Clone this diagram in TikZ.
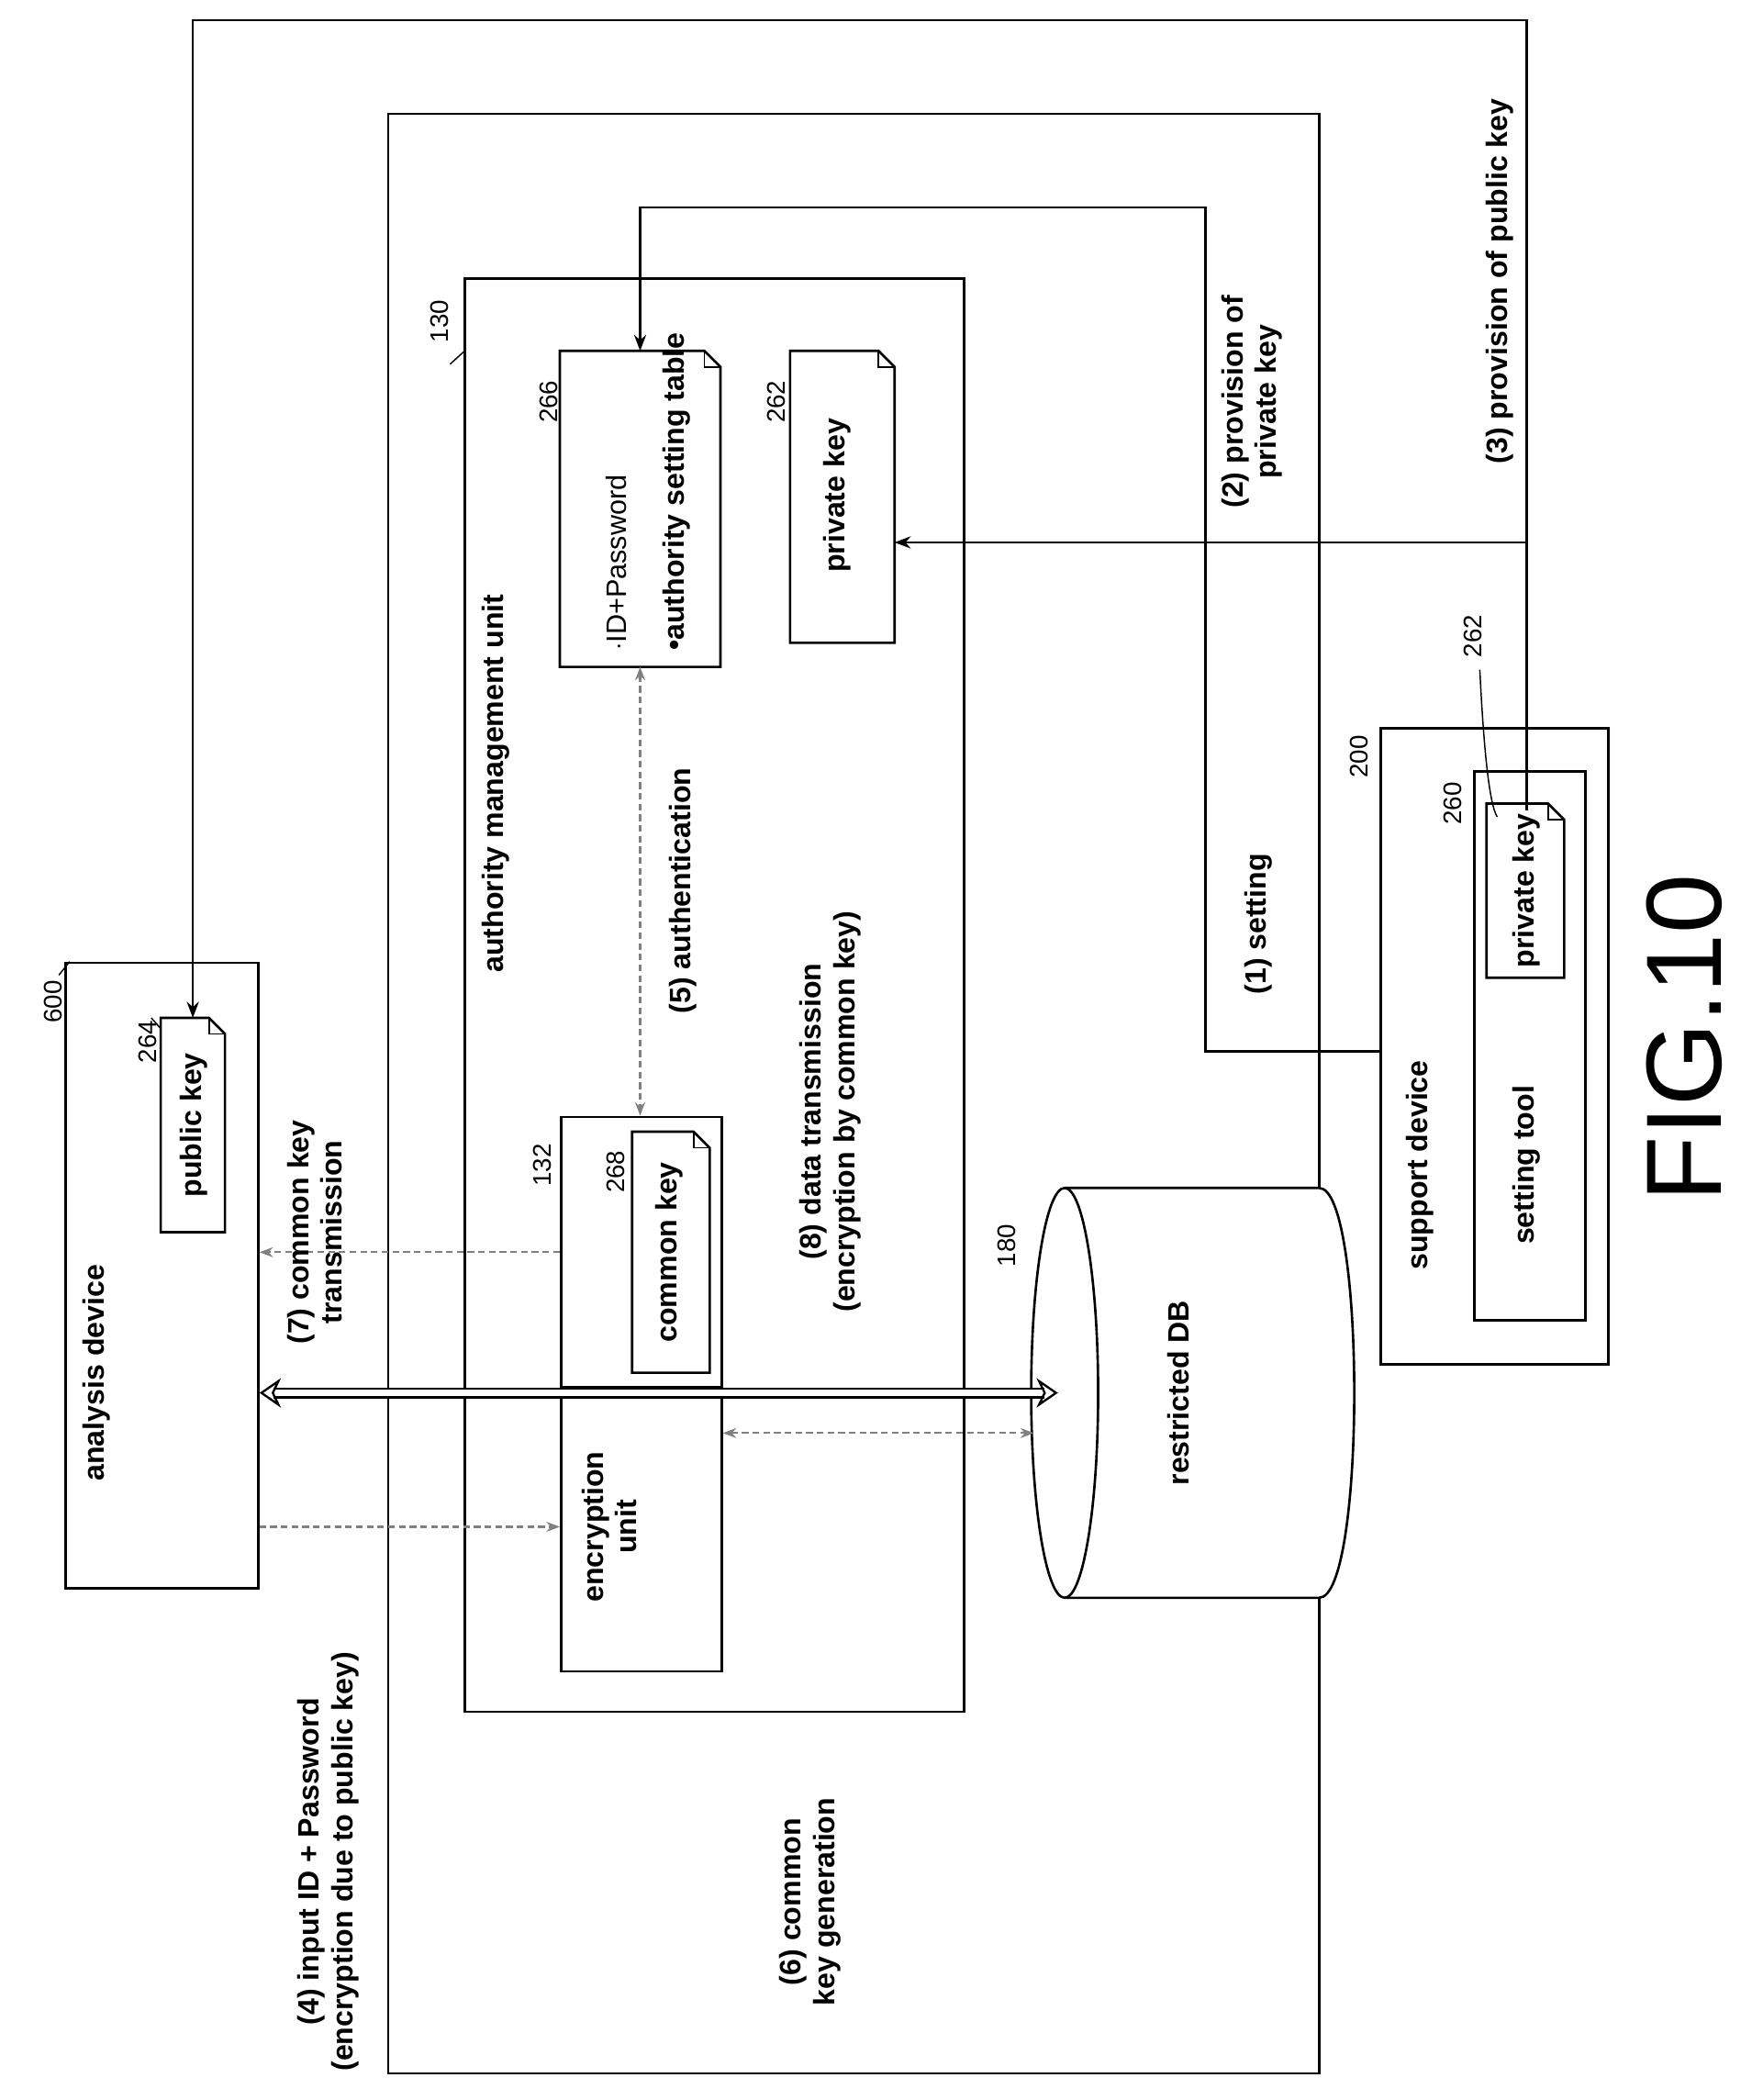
\documentclass[tikz,border=0pt]{standalone}
\usepackage{fontspec}
\setmainfont{Liberation Sans}
\usetikzlibrary{arrows.meta}
\begin{document}
\begin{tikzpicture}[x=1pt,y=-1pt,line width=1.8pt,
 lbl/.style={rotate=90,font=\fontsize{22}{25}\selectfont\bfseries,align=center},
 num/.style={rotate=90,font=\fontsize{19}{22}\selectfont},
 box/.style={draw},
 dsh/.style={draw=gray,line width=1.4pt,dashed,dash pattern=on 5pt off 3pt},
 arr/.style={-{Stealth[length=12pt,width=9pt]}}]
\useasboundingbox[fill=white] (0,0) rectangle (1308,1568);
\newcommand{\docshape}[4]{\draw (#1,#2)--({#3-12},#2)--(#3,{#2+12})--(#3,#4)--(#1,#4)--cycle; \draw[line width=1.2pt] ({#3-12},#2)--({#3-12},{#2+12})--(#3,{#2+12});}
% boxes
\draw (290,85) rectangle (985,1548);
\draw (347,208) rectangle (720,1278);
\node[box,minimum width=144,minimum height=467,anchor=north west] (ana) at (48,718) {};
\node[box,minimum width=120,minimum height=212,anchor=north west] (enc) at (418,1035) {};
\node[box,minimum width=120,minimum height=202,anchor=north west] (b132) at (418,833) {};
\node[box,minimum width=170,minimum height=475,anchor=north west] (sup) at (1030,543) {};
\node[box,minimum width=83,minimum height=410,anchor=north west] (tool) at (1100,575) {};
% docs
\docshape{120}{760}{168}{920} \coordinate (pub) at (144,760);
\docshape{472}{845}{530}{1025}
\docshape{418}{262}{538}{498} \coordinate (idtop) at (478,262); \coordinate (idbot) at (478,498);
\docshape{590}{262}{668}{480} \coordinate (prv) at (668,405);
\docshape{1110}{600}{1168}{730} \coordinate (sprv) at (1140,605);
% cylinder
\draw[fill=white] (795,887)--(985,887) .. controls (1020,887) and (1020,1193) .. (985,1193) -- (795,1193);
\draw[fill=white] (795,1040) ellipse [x radius=25,y radius=153];
\coordinate (db) at (790,1040);
% connectors
\draw[arr] (sprv)--(1140,15)--(144,15)--(pub);
\draw[arr] (1140,405)--(prv);
\draw[arr] (sup.west|-0,785)--(900,785)--(900,155)--(478,155)--(idtop);
\draw[dsh,{Stealth[length=10pt]}-{Stealth[length=10pt]}] (idbot)--(b132.north-|idbot);
\draw[dsh,-{Stealth[length=10pt]}] (b132.west|-0,935)--(ana.east|-0,935);
\draw[dsh,{Stealth[length=10pt]}-{Stealth[length=10pt]}] (enc.east|-0,1070)--(772,1070);
\draw[dsh,-{Stealth[length=10pt]}] (ana.east|-0,1140)--(enc.west|-0,1140);
\draw[double,double distance=5pt,line width=1.6pt,{Stealth[open,length=16pt,width=22pt]}-{Stealth[open,length=16pt,width=22pt]}] (ana.east|-0,1040)--(db);
% labels
\node[lbl] at (72,1025) {analysis device};
\node[lbl] at (145,840) {public key};
\node[num] at (40,748) {600}; \draw[line width=1pt] (52,718)--(44,728);
\node[num] at (110,778) {264}; \draw[line width=1pt] (120,768)--(113,760);
\node[lbl] at (235,920) {(7) common key\\transmission};
\node[lbl] at (370,585) {authority management unit};
\node[num] at (328,240) {130}; \draw[line width=1pt] (347,262)--(336,272);
\node[num] at (405,870) {132};
\node[num] at (460,875) {268};
\node[lbl] at (500,935) {common key};
\node[lbl] at (455,1140) {encryption\\unit};
\node[lbl] at (510,665) {(5) authentication};
\node[lbl] at (620,830) {(8) data transmission\\(encryption by common key)};
\node[num] at (752,930) {180};
\node[lbl] at (880,1040) {restricted DB};
\node[num] at (410,300) {266};
\node[rotate=90,font=\fontsize{21}{24}\selectfont,anchor=west] at (460,490) {$\cdot$ID+Password};
\node[lbl,anchor=west] at (505,490) {•authority setting table};
\node[num] at (580,300) {262};
\node[lbl] at (625,370) {private key};
\node[lbl] at (935,300) {(2) provision of\\private key};
\node[lbl] at (1120,210) {(3) provision of public key};
\node[num] at (1100,475) {262}; \draw[line width=1pt] (1105,500) .. controls (1108,560) and (1112,600) .. (1118,610);
\node[num] at (1015,565) {200};
\node[num] at (1085,600) {260};
\node[lbl] at (940,690) {(1) setting};
\node[lbl] at (1060,870) {support device};
\node[lbl] at (1140,870) {setting tool};
\node[lbl] at (1140,665) {private key};
\node[rotate=90,font=\fontsize{80}{82}\selectfont] at (1258,775) {FIG.10};
\node[lbl] at (245,1390) {(4) input ID + Password\\(encryption due to public key)};
\node[lbl] at (605,1420) {(6) common\\key generation};
\end{tikzpicture}
\end{document}
